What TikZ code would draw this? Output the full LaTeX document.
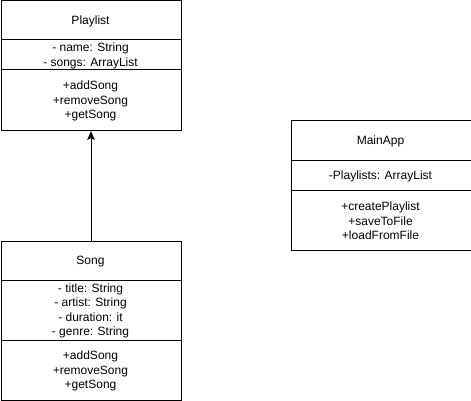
\documentclass[tikz,border=0pt]{standalone}
\usepackage{fontspec}
\setmainfont{Liberation Sans}
\usetikzlibrary{arrows.meta}
\tikzset{
  classbox/.style={draw=black, line width=1pt, inner sep=0pt, minimum width=180pt, anchor=north west},
  txt/.style={align=center, inner sep=0pt, font=\fontsize{12}{14.4}\selectfont},
  divider/.style={draw=black, line width=1pt},
  inherit/.style={draw=black, line width=1pt, -{Stealth[length=9pt, width=7.5pt, inset=2pt]}}
}
\begin{document}
\begin{tikzpicture}[x=1pt,y=-1pt]
\useasboundingbox (0,0) rectangle (471,401);
% Playlist
\node[classbox, minimum height=129.5pt] (pl) at (0.5,0.5) {};
\draw[divider] (0.5,40) -- (180.5,40);
\draw[divider] (0.5,70) -- (180.5,70);
\node[txt] (plt) at (90.5,21.5) {Playlist};
\node[txt] (pla) at (90.5,56) {- name: String\\- songs: ArrayList};
\node[txt] (plm) at (90.5,101) {+addSong\\+removeSong\\+getSong};
% Song
\node[classbox, minimum height=159.5pt] (so) at (0.5,240.5) {};
\draw[divider] (0.5,280) -- (180.5,280);
\draw[divider] (0.5,340) -- (180.5,340);
\node[txt] (sot) at (90.5,261.5) {Song};
\node[txt] (soa) at (90.5,311) {- title: String\\- artist: String\\- duration: it\\- genre: String};
\node[txt] (som) at (90.5,371) {+addSong\\+removeSong\\+getSong};
% MainApp
\node[classbox, minimum height=129.5pt] (ma) at (290.5,120.5) {};
\draw[divider] (290.5,160) -- (470.5,160);
\draw[divider] (290.5,190) -- (470.5,190);
\node[txt] (mat) at (380.5,141.5) {MainApp};
\node[txt] (maa) at (380.5,176) {-Playlists: ArrayList};
\node[txt] (mam) at (380.5,221) {+createPlaylist\\+saveToFile\\+loadFromFile};
% inheritance
\draw[inherit] (so.north) -- (pl.south);
\end{tikzpicture}
\end{document}
